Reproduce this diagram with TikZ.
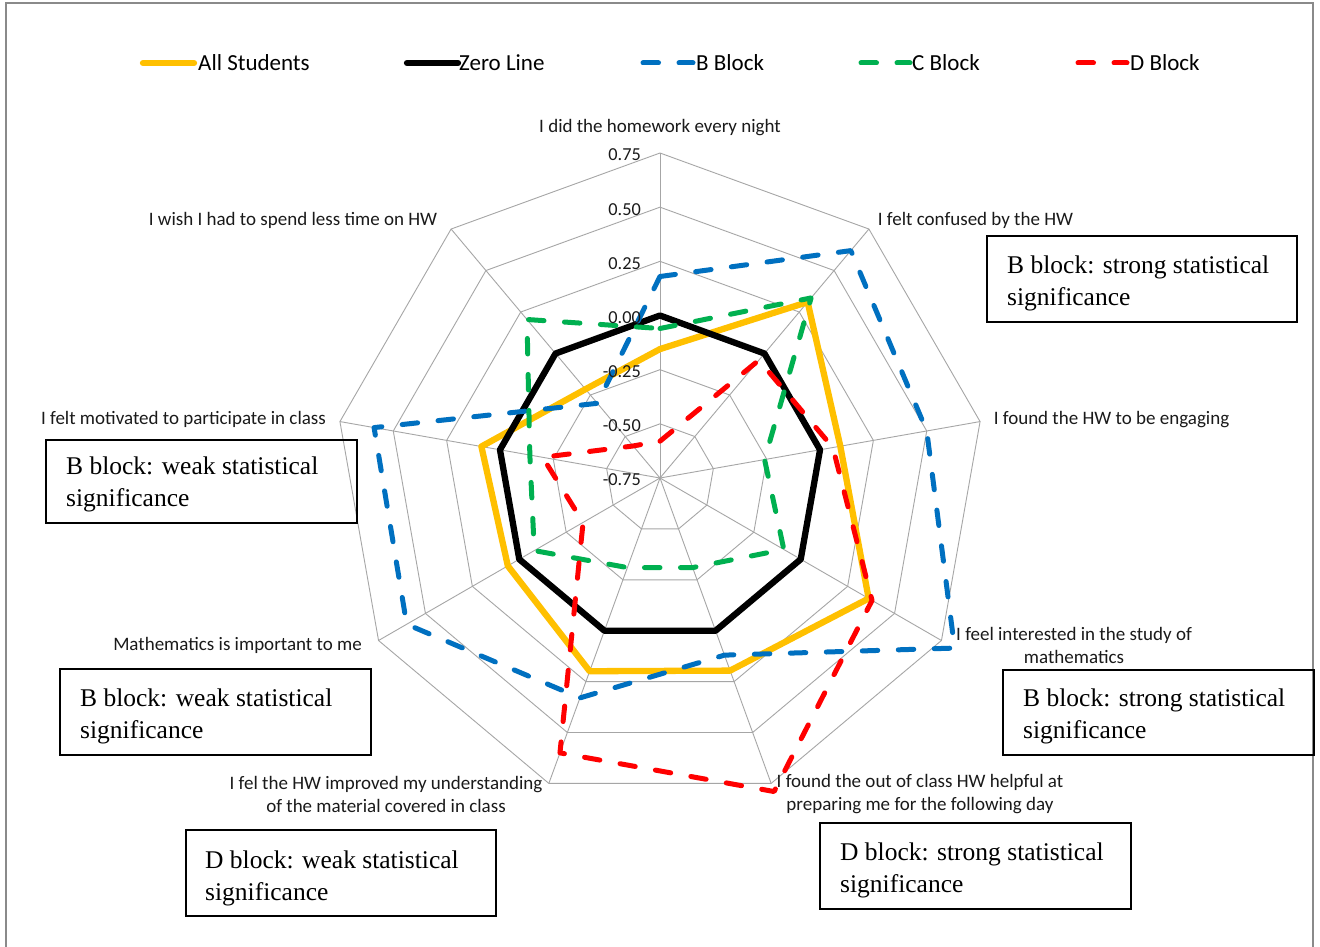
\documentclass[tikz,border=0pt]{standalone}
\usepackage{fontspec}
\setmainfont{Carlito}
\newfontfamily\boxfont{Liberation Serif}
\definecolor{ayellow}{HTML}{FFC000}
\definecolor{ablue}{HTML}{0070C0}
\definecolor{agreen}{HTML}{00B050}
\definecolor{ared}{HTML}{FF0000}
\definecolor{agrid}{HTML}{A6A6A6}
\definecolor{aframe}{HTML}{8A8A8A}
\definecolor{atext}{HTML}{1A1A1A}
\tikzset{
  gridline/.style={agrid, line width=0.9pt},
  solidser/.style={line width=6.3pt, line join=round, line cap=round},
  dashser/.style={line width=5pt, line join=round, line cap=round, dash pattern=on 15.5pt off 20.5pt},
  axlabel/.style={font=\fontsize{19}{23}\selectfont, text=atext, inner sep=0pt, align=center},
  scalelabel/.style={font=\fontsize{18.3}{22}\selectfont, text=atext, inner sep=0pt, anchor=east},
  legtext/.style={font=\fontsize{23}{26}\selectfont, text=black, inner sep=0pt, anchor=west},
  notebox/.style={draw=black, line width=1.8pt},
  notetext/.style={font=\boxfont\fontsize{25.5}{32}\selectfont, text=black, inner sep=0pt, anchor=north west, align=left}
}
\begin{document}
\begin{tikzpicture}[x=1pt,y=-1pt]
\useasboundingbox (0,0) rectangle (1320,947);
\fill[white] (0,0) rectangle (1320,947);
% frame
\draw[aframe, line width=1.3pt] (6,947) -- (6,3) -- (1313,3) -- (1313,947);

% legend
\draw[ayellow, solidser] (143,63) -- (194,63);
\node[legtext] (lgA) at (198,63) {All Students};
\draw[black, solidser] (407,63) -- (458,63);
\node[legtext] (lgZ) at (459,63) {Zero Line};
\draw[ablue, dashser] (643,63) -- (693,63);
\node[legtext] (lgB) at (696,63) {B Block};
\draw[agreen, dashser] (861,63) -- (910,63);
\node[legtext] (lgC) at (912,63) {C Block};
\draw[ared, dashser] (1078,63) -- (1127,63);
\node[legtext] (lgD) at (1130,63) {D Block};

% radar grid and series
\begin{scope}[shift={(660,478)}, y=1pt]
  \foreach \k in {1,...,6}{
    \draw[gridline] (90:{\k*54.1667}) \foreach \i in {1,...,8}{ -- ({90-40*\i}:{\k*54.1667})} -- cycle;
  }
  \foreach \i in {0,...,8}{
    \draw[gridline] (0,0) -- ({90-40*\i}:325);
  }
  \foreach \v [count=\i from 0] in {-0.155,0.31,0.095,0.362,0.196,0.199,0.061,0.087,-0.215}
    \coordinate (Y\i) at ({90-40*\i}:{(\v+0.75)*216.667});
  \foreach \v [count=\i from 0] in {0,0,0,0,0,0,0,0,0}
    \coordinate (Z\i) at ({90-40*\i}:{(\v+0.75)*216.667});
  \foreach \v [count=\i from 0] in {0.18,0.62,0.50,0.82,0.12,0.33,0.60,0.59,-0.30}
    \coordinate (B\i) at ({90-40*\i}:{(\v+0.75)*216.667});
  \foreach \v [count=\i from 0] in {-0.06,0.335,-0.26,-0.09,-0.31,-0.31,-0.08,-0.14,0.205}
    \coordinate (C\i) at ({90-40*\i}:{(\v+0.75)*216.667});
  \foreach \v [count=\i from 0] in {-0.58,-0.04,0.06,0.38,0.79,0.60,-0.34,-0.20,-0.557}
    \coordinate (D\i) at ({90-40*\i}:{(\v+0.75)*216.667});
  \draw[ayellow, solidser] (Y0) -- (Y1) -- (Y2) -- (Y3) -- (Y4) -- (Y5) -- (Y6) -- (Y7) -- (Y8) -- cycle;
  \draw[black, solidser] (Z0) -- (Z1) -- (Z2) -- (Z3) -- (Z4) -- (Z5) -- (Z6) -- (Z7) -- (Z8) -- cycle;
  \draw[ablue, dashser] (B0) -- (B1) -- (B2) -- (B3) -- (B4) -- (B5) -- (B6) -- (B7) -- (B8) -- cycle;
  \draw[agreen, dashser] (C0) -- (C1) -- (C2) -- (C3) -- (C4) -- (C5) -- (C6) -- (C7) -- (C8) -- cycle;
  \draw[ared, dashser] (D0) -- (D1) -- (D2) -- (D3) -- (D4) -- (D5) -- (D6) -- (D7) -- (D8) -- cycle;
\end{scope}

% scale labels
\node[scalelabel] (s1) at (641,155) {0.75};
\node[scalelabel] (s2) at (641,210) {0.50};
\node[scalelabel] (s3) at (641,264) {0.25};
\node[scalelabel] (s4) at (641,318) {0.00};
\node[scalelabel] (s5) at (641,372) {-0.25};
\node[scalelabel] (s6) at (641,426) {-0.50};
\node[scalelabel] (s7) at (641,480) {-0.75};

% axis labels
\node[axlabel] (a0) at (660,128) {I did the homework every night};
\node[axlabel] (a1) at (975.5,220) {I felt confused by the HW};
\node[axlabel] (a2) at (1111.5,420) {I found the HW to be engaging};
\node[axlabel] (a3) at (1074,645) {I feel interested in the study of\\mathematics};
\node[axlabel] (a4) at (920,794) {I found the out of class HW helpful at\\preparing me for the following day};
\node[axlabel] (a5) at (386,794) {I fel the HW improved my understanding\\of the material covered in class};
\node[axlabel] (a6) at (237.5,645) {Mathematics is important to me};
\node[axlabel] (a7) at (183.5,419) {I felt motivated to participate in class};
\node[axlabel] (a8) at (293,220) {I wish I had to spend less time on HW};

% annotation boxes
\draw[notebox] (987,236) rectangle (1297,322);
\node[notetext] (n1) at (1007,256) {B block: strong statistical\\significance};
\draw[notebox] (46,440) rectangle (357,523);
\node[notetext] (n2) at (66,457) {B block: weak statistical\\significance};
\draw[notebox] (60,669) rectangle (371,755);
\node[notetext] (n3) at (80,689) {B block: weak statistical\\significance};
\draw[notebox] (1003,670) rectangle (1314,755);
\node[notetext] (n4) at (1023,689) {B block: strong statistical\\significance};
\draw[notebox] (186,830) rectangle (496,916);
\node[notetext] (n5) at (205,851) {D block: weak statistical\\significance};
\draw[notebox] (820,823) rectangle (1131,909);
\node[notetext] (n6) at (840,843) {D block: strong statistical\\significance};
\end{tikzpicture}
\end{document}
